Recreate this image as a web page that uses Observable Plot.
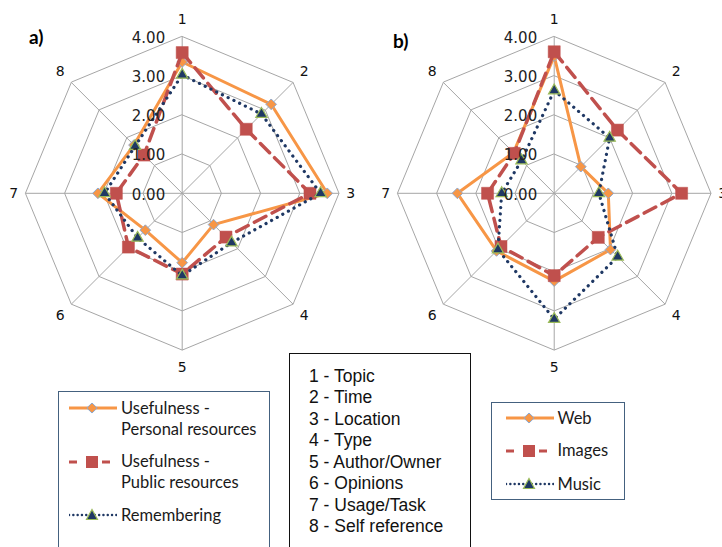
<!DOCTYPE html>
<html>
<head>
<meta charset="utf-8">
<script src="https://cdn.jsdelivr.net/npm/d3@7"></script>
<script src="https://cdn.jsdelivr.net/npm/@observablehq/plot@0.6"></script>
<style>
  body { margin: 0; background: #fff; }
  #wrap { position: relative; width: 722px; height: 547px; overflow: hidden; background: #fff; }
  #wrap svg.chart { position: absolute; left: 0; top: 0; }
  .panel { position: absolute; font-family: Lato, sans-serif; font-weight: 700; font-size: 19px; color: #000; line-height: 1; }
  .box { position: absolute; box-sizing: border-box; }
  .entry { position: absolute; font-family: Lato, sans-serif; font-size: 16.5px; color: #1a1a1a; line-height: 21px; white-space: nowrap; }
  .sym { position: absolute; }
  .key { position: absolute; font-family: "Liberation Sans", Arial, sans-serif; font-size: 17.5px; color: #111; line-height: 21.5px; white-space: nowrap; }
</style>
</head>
<body>
<div id="wrap"></div>
<script>
// Axis identifiers and their meaning
const axisNames = ["1", "2", "3", "4", "5", "6", "7", "8"];
const axisMeaning = ["Topic", "Time", "Location", "Type", "Author/Owner", "Opinions", "Usage/Task", "Self reference"];

// Radial tick values and labels
const tickValues = [0, 1, 2, 3, 4];
const tickLabels = ["0.00", "1.00", "2.00", "3.00", "4.00"];

// Panel a) series
const personal = [3.35, 3.21, 3.70, 1.13, 1.77, 1.33, 2.15, 1.74];
const publicRes = [3.59, 2.31, 3.26, 1.58, 2.06, 1.94, 1.68, 1.38];
const remembering = [3.02, 2.86, 3.53, 1.78, 2.10, 1.61, 1.98, 1.70];

// Panel b) series
const web = [3.50, 0.96, 1.38, 2.03, 2.24, 2.08, 2.47, 1.47];
const images = [3.61, 2.28, 3.25, 1.59, 2.10, 1.92, 1.70, 1.44];
const music = [2.62, 2.00, 1.14, 2.29, 3.21, 2.03, 1.34, 1.18];

// Series styling
const ORANGE = "#F79646", RED = "#C0504D", NAVY = "#1F3864", GREEN = "#9BBB59", GRID = "#A6A6A6";

// Horizontal offset (in value units) of the second radar
const panelB = 9.49;
const maxR = 4;

const angle = i => i * Math.PI / 4;
const polar = (r, i, ox) => ({x: ox + r * Math.sin(angle(i)), y: r * Math.cos(angle(i))});

function seriesPoints(values, ox) {
  return values.map((v, i) => ({...polar(v, i, ox), axis: axisNames[i], value: v}));
}

function gridMarks(ox) {
  const rings = [];
  for (const lv of tickValues.slice(1)) {
    axisNames.forEach((_, i) => rings.push({...polar(lv, i, ox), ring: lv}));
  }
  const spokes = axisNames.map((_, i) => {
    const p = polar(maxR, i, ox);
    return {x1: ox, y1: 0, x2: p.x, y2: p.y};
  });
  return [
    Plot.line(rings, {x: "x", y: "y", z: "ring", curve: "linear-closed", stroke: GRID, strokeWidth: 1}),
    Plot.link(spokes, {x1: "x1", y1: "y1", x2: "x2", y2: "y2", stroke: GRID, strokeWidth: 1})
  ];
}

function axisLabelMarks(ox) {
  const rows = axisNames.map((name, i) => {
    const rr = 4.3 + 0.14 * Math.abs(Math.cos(angle(i)));
    return {...polar(rr, i, ox), name};
  });
  return Plot.text(rows, {x: "x", y: "y", text: "name", fontSize: 14, fill: "#111", textAnchor: "middle"});
}

function tickLabelMarks(ox) {
  const rows = tickValues.map((v, i) => ({x: ox, y: v, label: tickLabels[i]}));
  return Plot.text(rows, {x: "x", y: "y", text: "label", textAnchor: "end", dx: -17, dy: 1.5, fontSize: 15, fill: "#222"});
}

function seriesMarks(values, ox, kind) {
  const pts = seriesPoints(values, ox);
  if (kind === "diamond") {
    return [
      Plot.line(pts, {x: "x", y: "y", curve: "linear-closed", stroke: ORANGE, strokeWidth: 3}),
      Plot.dot(pts, {x: "x", y: "y", symbol: "diamond2", r: 4.8, fill: ORANGE, stroke: "#8EA9CF", strokeWidth: 1})
    ];
  }
  if (kind === "square") {
    return [
      Plot.line(pts, {x: "x", y: "y", curve: "linear-closed", stroke: RED, strokeWidth: 3.5, strokeDasharray: "13 7"}),
      Plot.dot(pts, {x: "x", y: "y", symbol: "square", r: 6.8, fill: RED, stroke: RED, strokeWidth: 0.5})
    ];
  }
  return [
    Plot.line(pts, {x: "x", y: "y", curve: "linear-closed", stroke: NAVY, strokeWidth: 3.2, strokeDasharray: "0.1 6.3", strokeLinecap: "round"}),
    Plot.dot(pts, {x: "x", y: "y", symbol: "triangle2", r: 5.4, fill: NAVY, stroke: GREEN, strokeWidth: 1.2})
  ];
}

const chart = Plot.plot({
  width: 722,
  height: 547,
  margin: 0,
  x: {domain: [-4, 4], range: [24.9, 338.5], axis: null},
  y: {domain: [-4, 4], range: [349.6, 36.0], axis: null},
  style: {fontFamily: "'DejaVu Sans', sans-serif", background: "transparent", overflow: "visible"},
  marks: [
    ...gridMarks(0),
    ...gridMarks(panelB),
    ...seriesMarks(personal, 0, "diamond"),
    ...seriesMarks(publicRes, 0, "square"),
    ...seriesMarks(remembering, 0, "triangle"),
    ...seriesMarks(web, panelB, "diamond"),
    ...seriesMarks(images, panelB, "square"),
    ...seriesMarks(music, panelB, "triangle"),
    tickLabelMarks(0),
    tickLabelMarks(panelB),
    axisLabelMarks(0),
    axisLabelMarks(panelB)
  ]
});
chart.classList.add("chart");

const wrap = document.getElementById("wrap");
wrap.appendChild(chart);

function el(tag, cls, style, text) {
  const e = document.createElement(tag);
  if (cls) e.className = cls;
  Object.assign(e.style, style);
  if (text != null) e.textContent = text;
  wrap.appendChild(e);
  return e;
}

// Panel tags
el("div", "panel", {left: "29px", top: "27px"}, "a)");
el("div", "panel", {left: "393px", top: "31px"}, "b)");

// Small legend swatch: line segment plus marker
function swatch(kind, left, cy) {
  const ns = "http://www.w3.org/2000/svg";
  const svg = document.createElementNS(ns, "svg");
  svg.setAttribute("width", 48);
  svg.setAttribute("height", 14);
  svg.setAttribute("class", "sym");
  svg.style.left = left + "px";
  svg.style.top = (cy - 7) + "px";
  const line = document.createElementNS(ns, "line");
  line.setAttribute("x1", 0); line.setAttribute("x2", 48);
  line.setAttribute("y1", 7); line.setAttribute("y2", 7);
  const mk = document.createElementNS(ns, "path");
  if (kind === "diamond") {
    line.setAttribute("stroke", ORANGE); line.setAttribute("stroke-width", 3);
    mk.setAttribute("d", "M23,2 L28.2,7 L23,12 L17.8,7 Z");
    mk.setAttribute("fill", ORANGE); mk.setAttribute("stroke", "#8EA9CF");
  } else if (kind === "square") {
    line.setAttribute("stroke", RED); line.setAttribute("stroke-width", 3);
    line.setAttribute("stroke-dasharray", "8 7 0 18 8 7");
    mk.setAttribute("d", "M17,1 H29 V13 H17 Z");
    mk.setAttribute("fill", RED);
  } else {
    line.setAttribute("stroke", NAVY); line.setAttribute("stroke-width", 2.4);
    line.setAttribute("stroke-dasharray", "0.1 4.2"); line.setAttribute("stroke-linecap", "round");
    mk.setAttribute("d", "M23,1.5 L28.5,11.5 L17.5,11.5 Z");
    mk.setAttribute("fill", NAVY); mk.setAttribute("stroke", GREEN); mk.setAttribute("stroke-width", 1.2);
  }
  svg.appendChild(line);
  svg.appendChild(mk);
  wrap.appendChild(svg);
}

// Legend for panel a)
el("div", "box", {left: "58px", top: "391px", width: "212px", height: "200px", border: "1.5px solid #44617F"});
const legendA = [
  {kind: "diamond", lines: ["Usefulness -", "Personal resources"], cy: 408},
  {kind: "square", lines: ["Usefulness -", "Public resources"], cy: 461.5},
  {kind: "triangle", lines: ["Remembering"], cy: 515}
];
legendA.forEach(d => {
  swatch(d.kind, 69, d.cy);
  d.lines.forEach((t, j) => el("div", "entry", {left: "121px", top: (d.cy - 10.5 + j * 21.2) + "px"}, t));
});

// Axis key in the middle
el("div", "box", {left: "289px", top: "353px", width: "182px", height: "220px", border: "1.5px solid #111"});
axisNames.forEach((n, i) => {
  el("div", "key", {left: "309px", top: (376.7 - 10.75 + i * 21.5) + "px"}, n + " - " + axisMeaning[i]);
});

// Legend for panel b)
el("div", "box", {left: "491px", top: "402px", width: "134px", height: "98px", border: "1.5px solid #44617F"});
const legendB = [
  {kind: "diamond", label: "Web", cy: 418.3},
  {kind: "square", label: "Images", cy: 450.7},
  {kind: "triangle", label: "Music", cy: 484}
];
legendB.forEach(d => {
  swatch(d.kind, 505.5, d.cy);
  el("div", "entry", {left: "557.5px", top: (d.cy - 10.5) + "px"}, d.label);
});
</script>
</body>
</html>
